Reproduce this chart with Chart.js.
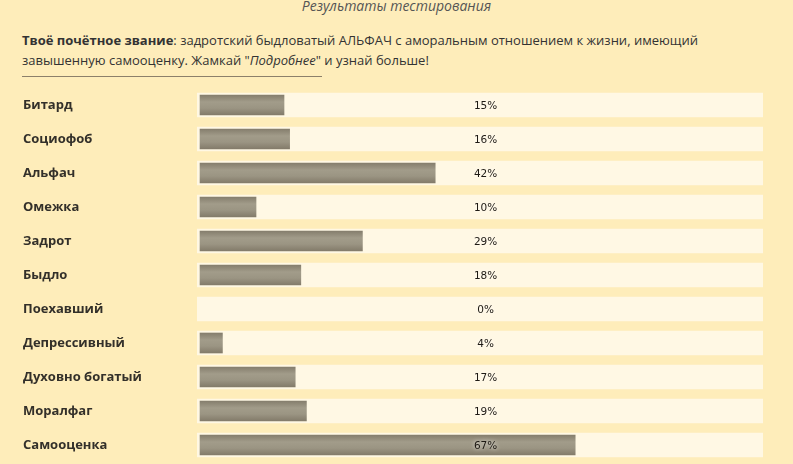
<!DOCTYPE html>
<html lang="ru">
<head>
<meta charset="utf-8">
<title>Результаты тестирования</title>
<script src="https://cdn.jsdelivr.net/npm/chart.js@4"></script>
<style>
    body {
        margin: 0;
        width: 793px;
        height: 464px;
        overflow: hidden;
        background: #feedba;
        font-family: 'Open Sans', Arial, sans-serif;
        color: #333;
        position: relative;
    }
    .titulo {
        position: absolute;
        top: -4px;
        left: 0;
        width: 793px;
        text-align: center;
        font-style: italic;
        font-size: 14px;
        color: #555;
    }
    .descripcion {
        position: absolute;
        top: 30px;
        left: 22px;
        width: 720px;
        font-size: 13px;
        line-height: 20px;
        color: #333;
    }
    .linea {
        position: absolute;
        top: 76px;
        left: 22px;
        width: 300px;
        height: 1px;
        background: #8c806a;
    }
    #contenedorResultados {
        position: absolute;
        top: 84px;
        left: 0;
        width: 793px;
        height: 380px;
    }
</style>
</head>
<body>

<div class="titulo">Результаты тестирования</div>
<div class="descripcion"><b>Твоё почётное звание</b>: задротский быдловатый АЛЬФАЧ с аморальным отношением к жизни, имеющий завышенную самооценку. Жамкай "<i>Подробнее</i>" и узнай больше!</div>
<div class="linea"></div>

<div id="contenedorResultados"><canvas id="graficoResultados"></canvas></div>

<script>
// ===================================== Datos ==================
var categorias = ['Битард', 'Социофоб', 'Альфач', 'Омежка', 'Задрот', 'Быдло', 'Поехавший',
    'Депрессивный', 'Духовно богатый', 'Моралфаг', 'Самооценка'];
var porcentajes = [15, 16, 42, 10, 29, 18, 0, 4, 17, 19, 67];

// la pista clara sobresale 3px por cada lado de la escala 0..100
var X_MIN = -0.54;
var X_MAX = 100.54;
var pista = categorias.map(() => [X_MIN, X_MAX]);


// ===================================== Degradado de las barras ==================
const degradadoBarras = {
    id: 'degradadoBarras',
    beforeDatasetDraw(chart, args) {
        if (args.index !== 0) return;
        const ctx = chart.ctx;
        args.meta.data.forEach((bar, i) => {
            if (!porcentajes[i]) {
                bar.options.backgroundColor = 'rgba(0,0,0,0)';
                return;
            }
            const h = bar.height / 2;
            const g = ctx.createLinearGradient(0, bar.y - h, 0, bar.y + h);
            g.addColorStop(0, '#857e6d');
            g.addColorStop(0.35, '#a29c8a');
            g.addColorStop(0.65, '#9b9583');
            g.addColorStop(1, '#837b6a');
            bar.options.backgroundColor = g;
        });
    }
};


// ===================================== Etiquetas de porcentaje ==================
const etiquetasPorcentaje = {
    id: 'etiquetasPorcentaje',
    afterDatasetsDraw(chart) {
        const ctx = chart.ctx;
        const x = chart.scales.x.getPixelForValue(51);
        ctx.save();
        ctx.font = '10.5px "DejaVu Sans", Verdana, sans-serif';
        ctx.fillStyle = '#1e1a14';
        ctx.textAlign = 'center';
        ctx.textBaseline = 'middle';
        ctx.shadowColor = 'rgba(255,255,255,0.9)';
        ctx.shadowBlur = 4;
        chart.getDatasetMeta(0).data.forEach((bar, i) => {
            ctx.fillText(porcentajes[i] + '%', x, bar.y + 1);
        });
        ctx.restore();
    }
};


// ===================================== Grafico ==================
var chartResultados = new Chart(document.getElementById('graficoResultados'), {
    type: 'bar',
    data: {
        labels: categorias,
        datasets: [
            {
                label: 'Resultado',
                data: porcentajes,
                // funcion para que cada barra tenga sus propias opciones (degradado)
                backgroundColor: (c) => '#948e7c',
                barThickness: 20,
                grouped: false,
                order: 0
            },
            {
                label: 'Pista',
                data: pista,
                backgroundColor: '#fff8e4',
                barThickness: 24,
                grouped: false,
                order: 1
            }
        ]
    },
    options: {
        indexAxis: 'y',
        responsive: true,
        maintainAspectRatio: false,
        animation: false,
        layout: { padding: { left: 23, right: 30, top: 4, bottom: 2 } },
        plugins: {
            legend: { display: false },
            tooltip: { enabled: false }
        },
        scales: {
            x: { display: false, min: X_MIN, max: X_MAX },
            y: {
                grid: { display: false },
                border: { display: false },
                afterFit(scale) {
                    scale.width = 174;
                    scale.paddingTop = 0;
                    scale.paddingBottom = 0;
                },
                ticks: {
                    crossAlign: 'far',
                    color: '#33302a',
                    font: { family: "'Open Sans', Arial, sans-serif", size: 13, weight: 'bold' }
                }
            }
        }
    },
    plugins: [degradadoBarras, etiquetasPorcentaje]
});
</script>
</body>
</html>
